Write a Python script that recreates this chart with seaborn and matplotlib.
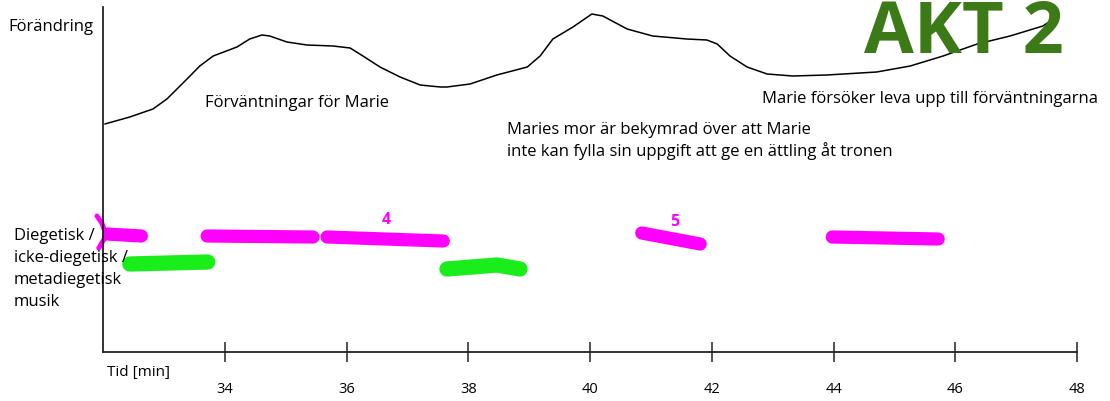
import numpy as np
import matplotlib.pyplot as plt
import seaborn as sns
import pandas as pd

# "Förändring" curve (time in minutes, change in arbitrary units)
curve_min = [32.03, 32.44, 32.82, 33.05, 33.38, 33.59, 33.81, 34.20, 34.41, 34.61, 34.74,
             35.02, 35.35, 35.78, 36.06, 36.27, 36.55, 36.88, 37.21, 37.54, 37.65, 38.03,
             38.47, 38.97, 39.18, 39.39, 39.72, 40.03, 40.21, 40.61, 41.03, 41.59, 41.92,
             42.09, 42.30, 42.58, 42.91, 43.33, 43.89, 44.71, 45.26, 45.80, 46.36, 46.90,
             47.44, 47.56]
curve_val = [228, 235, 243, 253, 273, 286, 296, 305, 313, 317, 316,
             310, 307, 306, 304, 296, 285, 275, 267, 265, 265, 268,
             277, 285, 296, 313, 325, 338, 336, 323, 316, 313, 312,
             308, 296, 285, 278, 276, 277, 280, 286, 296, 308, 316,
             326, 331]

# music strokes (time span and level)
pink_x = [[32.06, 32.63], [33.71, 35.45], [35.68, 37.59], [40.85, 41.81], [43.98, 45.72]]
pink_y = [[118, 116], [116, 115], [115, 111], [119, 108], [115, 113]]
green_x = [[32.44, 33.72], [37.65, 38.47, 38.85]]
green_y = [[88, 90], [83, 87, 83]]
bracket_x = [31.90, 31.98, 32.03, 32.02, 31.93]
bracket_y = [136, 129, 121, 113, 104]

x_ticks = [34, 36, 38, 40, 42, 44, 46, 48]

sns.set_style('white')
plt.rcParams['font.family'] = ['Open Sans', 'DejaVu Sans']
plt.rcParams['text.color'] = 'black'

fig = plt.figure(figsize=(11.1, 4.02), dpi=100)
ax = fig.add_axes([103 / 1110, 49 / 402, 974 / 1110, 345 / 402])

sns.lineplot(x=curve_min, y=curve_val, ax=ax, color='black', linewidth=1.1, estimator=None)

pink = '#ff00ff'
green = '#1aee1a'
for xs, ys in zip(pink_x, pink_y):
    sns.lineplot(x=xs, y=ys, ax=ax, color=pink, linewidth=9.5, solid_capstyle='round',
                 estimator=None, sort=False)
for xs, ys in zip(green_x, green_y):
    sns.lineplot(x=xs, y=ys, ax=ax, color=green, linewidth=11, solid_capstyle='round',
                 estimator=None, sort=False)
sns.lineplot(x=bracket_x, y=bracket_y, ax=ax, color=pink, linewidth=3.5, estimator=None,
             sort=False, clip_on=False, solid_capstyle='round')

ax.set_xlim(32, 48)
ax.set_ylim(0, 345)
ax.set_xticks(x_ticks)
ax.set_xticklabels([str(t) for t in x_ticks], fontsize=10.5, color='black')
ax.set_yticks([])
ax.tick_params(axis='x', bottom=True, direction='inout', length=14, width=1.1,
               color='#222222', pad=14)
for s in ['top', 'right']:
    ax.spines[s].set_visible(False)
for s in ['left', 'bottom']:
    ax.spines[s].set_color('#222222')
    ax.spines[s].set_linewidth(1.3)

# annotations
def ftext(px, py, s, **kw):
    fig.text(px / 1110, 1 - py / 402, s, **kw)

ftext(8, 27, 'Förändring', fontsize=12, va='center')
ftext(14, 228, 'Diegetisk /\nicke-diegetisk /\nmetadiegetisk\nmusik', fontsize=12,
      va='top', linespacing=1.5)
ftext(107, 373, 'Tid [min]', fontsize=11, va='center')
ftext(205, 103, 'Förväntningar för Marie', fontsize=12, va='center')
ftext(507, 141, 'Maries mor är bekymrad över att Marie\ninte kan fylla sin uppgift att ge en ättling åt tronen',
      fontsize=12, va='center', linespacing=1.32)
ftext(762, 99, 'Marie försöker leva upp till förväntningarna', fontsize=12, va='center')
ftext(386, 220, '4', fontsize=11.5, color=pink, fontweight='bold', ha='center', va='center')
ftext(675, 222, '5', fontsize=11.5, color=pink, fontweight='bold', ha='center', va='center')
ftext(864, 53, 'AKT 2', fontsize=52, color='#3b7a16', fontweight='bold', va='baseline')

plt.savefig('out.png', dpi=100)
